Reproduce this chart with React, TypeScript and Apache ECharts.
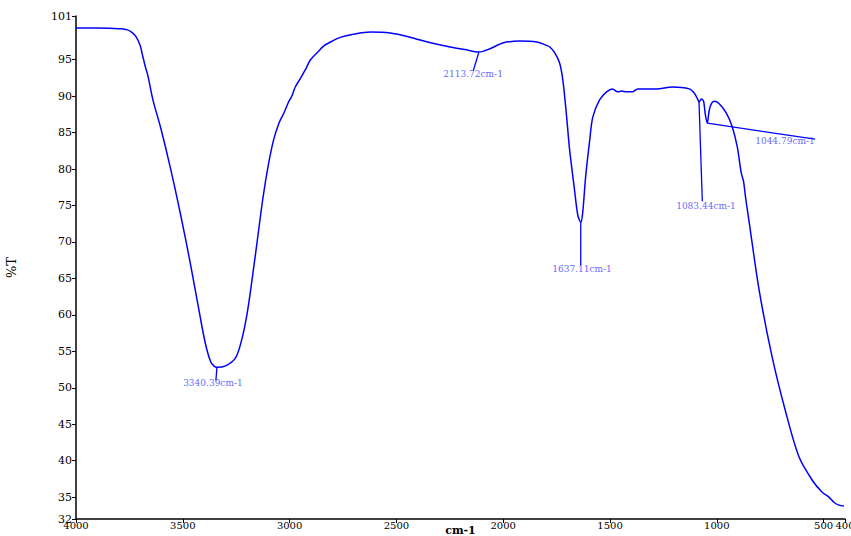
import React, { useEffect, useRef } from "react";
import * as echarts from "echarts";

const wavenumbers: number[] = [
  4000, 3900, 3820, 3790, 3760, 3740, 3720, 3700, 3690, 3675, 3664, 3640, 3603, 3556, 3510, 3463, 3416, 3393, 3370, 3355,
  3340.39, 3300, 3253, 3225, 3200, 3175, 3150, 3125, 3100, 3075, 3050, 3025, 3005, 2995, 2987, 2973, 2950, 2925, 2903,
  2870, 2840, 2809, 2760, 2702, 2623, 2529, 2450, 2389, 2320, 2249, 2180, 2113.72, 2062, 2002, 1922, 1843, 1800, 1782,
  1760, 1736, 1720, 1703, 1689, 1666, 1651, 1637.11, 1628, 1614, 1595, 1581, 1549, 1516, 1488, 1465, 1446, 1423, 1395,
  1371, 1283, 1208, 1129, 1105, 1090, 1083.44, 1072, 1062, 1054, 1044.79, 1036, 1025, 1012, 990, 956, 928, 904, 886,
  875, 865, 848, 802, 741, 676, 615, 554, 508, 475, 452, 428, 405,
];

const transmittance: number[] = [
  99.35, 99.35, 99.3, 99.25, 99.1, 98.8, 98.2, 97.0, 95.8, 94.0, 92.9, 89.5, 85.6, 79.9, 73.7, 66.8, 59.3, 55.9, 53.6, 53.0,
  52.8, 53.0, 54.1, 56.5, 60.0, 65.0, 70.5, 76.0, 80.5, 84.0, 86.3, 87.8, 89.2, 89.7, 90.2, 91.3, 92.4, 93.7, 94.96,
  96.0, 96.9, 97.43, 98.1, 98.5, 98.8, 98.67, 98.2, 97.7, 97.2, 96.75, 96.4, 96.06, 96.5, 97.3, 97.57, 97.43, 97.0, 96.75,
  96.0, 94.55, 92.0, 87.1, 82.6, 77.1, 73.7, 72.7, 74.0, 79.0, 84.0, 87.1, 89.5, 90.6, 91.0, 90.6, 90.7, 90.6, 90.6,
  91.0, 91.0, 91.26, 91.0, 90.4, 89.6, 89.2, 89.6, 89.3, 87.5, 86.3, 88.0, 89.0, 89.3, 89.0, 87.7, 85.8, 83.0, 79.5,
  78.3, 76.0, 72.6, 63.4, 54.2, 46.5, 40.5, 37.35, 35.7, 35.0, 34.3, 33.9, 33.8,
];

const xTicks: number[] = [4000, 3500, 3000, 2500, 2000, 1500, 1000, 500, 400];
const yTicks: number[] = [32, 35, 40, 45, 50, 55, 60, 65, 70, 75, 80, 85, 90, 95, 100, 101];

const peakLabels: string[] = ["3340.39cm-1", "2113.72cm-1", "1637.11cm-1", "1083.44cm-1", "1044.79cm-1"];
const peakPoints: [number, number][] = [
  [3340.39, 52.8],
  [2113.72, 96.06],
  [1637.11, 72.7],
  [1083.44, 89.2],
  [1044.79, 86.3],
];
const leaderEnds: [number, number][] = [
  [3345, 51.0],
  [2140, 93.5],
  [1637.11, 66.8],
  [1068, 75.6],
  [540, 84.1],
];
const labelSpots: [number, number][] = [
  [3359, 50.65],
  [2141, 93.0],
  [1631, 66.3],
  [1051, 74.9],
  [681, 83.85],
];

const BLUE = "#0000ff";
const FONT = "DejaVu Serif";

export default function App() {
  const ref = useRef<HTMLDivElement>(null);

  useEffect(() => {
    if (!ref.current) return;
    const chart = echarts.init(ref.current, undefined, { renderer: "svg" });

    const curve = wavenumbers.map((w, i) => [w, transmittance[i]]);

    const leaders = peakPoints.map((p, i) => ({
      type: "line",
      data: [p, leaderEnds[i]],
      symbol: "none",
      silent: true,
      lineStyle: { color: BLUE, width: 1.3 },
      z: 3,
    }));

    const option: any = {
      animation: false,
      backgroundColor: "#ffffff",
      grid: { left: 76, right: 6, top: 16, bottom: 17, containLabel: false, outerBoundsMode: "none" },
      xAxis: {
        type: "value",
        inverse: true,
        min: 400,
        max: 4000,
        name: "cm-1",
        nameLocation: "middle",
        nameGap: 11,
        nameMoveOverlap: false,
        nameTextStyle: { fontFamily: FONT, fontSize: 11, color: "#000", fontWeight: "bold", verticalAlign: "middle" },
        axisLine: { show: true, lineStyle: { color: "#000", width: 1.5 } },
        axisTick: { show: true, length: 4, customValues: xTicks, lineStyle: { color: "#000" } },
        axisLabel: {
          customValues: xTicks,
          formatter: (v: number) => String(v),
          fontFamily: FONT,
          fontSize: 10,
          color: "#000",
          margin: 1,
          showMinLabel: true,
          showMaxLabel: true,
        },
        splitLine: { show: false },
      },
      yAxis: {
        type: "value",
        min: 32,
        max: 101,
        name: "%T",
        nameLocation: "middle",
        nameRotate: 90,
        nameGap: 58,
        nameMoveOverlap: false,
        nameTextStyle: { fontFamily: FONT, fontSize: 13, color: "#000" },
        axisLine: { show: true, lineStyle: { color: "#000", width: 1.5 } },
        axisTick: { show: true, length: 4, customValues: yTicks, lineStyle: { color: "#000" } },
        axisLabel: {
          customValues: yTicks,
          formatter: (v: number) => String(v),
          fontFamily: FONT,
          fontSize: 11,
          color: "#000",
          margin: 4,
          showMinLabel: true,
          showMaxLabel: true,
        },
        splitLine: { show: false },
      },
      series: [
        {
          type: "line",
          data: curve,
          symbol: "none",
          smooth: 0.3,
          lineStyle: { color: BLUE, width: 1.5 },
          z: 4,
        },
        ...leaders,
        {
          type: "scatter",
          data: labelSpots.map((s, i) => ({ value: s, name: peakLabels[i] })),
          symbolSize: 1,
          itemStyle: { color: "rgba(0,0,0,0)" },
          silent: true,
          label: {
            show: true,
            position: "inside",
            formatter: (p: any) => p.name,
            fontFamily: FONT,
            fontSize: 9,
            color: "#3a3aff",
          },
          z: 5,
        },
      ],
    };

    chart.setOption(option);
    return () => chart.dispose();
  }, []);

  return (
    <div
      ref={ref}
      style={{ position: "fixed", left: 0, top: 0, width: 851, height: 536 }}
    />
  );
}
